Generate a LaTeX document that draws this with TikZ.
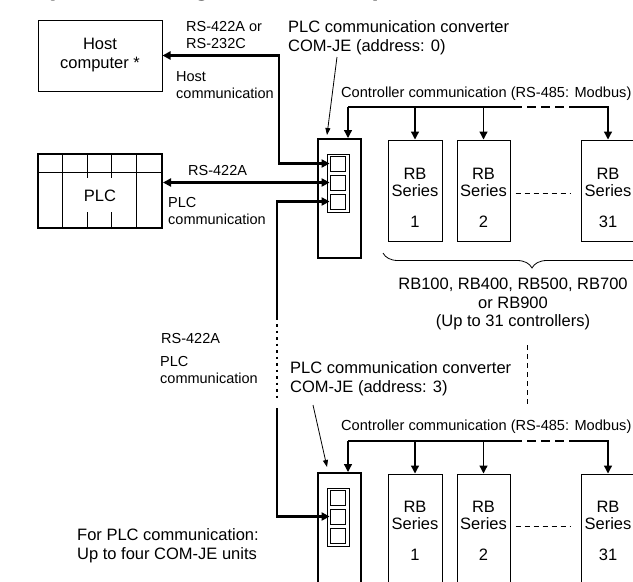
\documentclass[tikz,border=0pt]{standalone}
\usepackage{fontspec}
\setmainfont{Liberation Sans}
\usetikzlibrary{positioning,arrows.meta,decorations.pathreplacing}
\tikzset{
  thinbox/.style={draw, line width=1pt, align=center, font=\fontsize{16.5}{19}\selectfont},
  thickbox/.style={draw, line width=2pt},
  portbox/.style={draw, line width=0.8pt, minimum size=15pt},
  wire/.style={line width=2.5pt},
  bus/.style={line width=1.3pt},
  ptr/.style={line width=0.8pt, -{Triangle[length=7pt,width=5pt]}},
  dashline/.style={line width=0.8pt, dash pattern=on 5pt off 4pt},
  bigtext/.style={font=\fontsize{16.5}{19.5}\selectfont, align=left},
  smalltext/.style={font=\fontsize{14.5}{16.5}\selectfont, align=left},
  bustext/.style={font=\fontsize{14.6}{17}\selectfont},
  rbtext/.style={font=\fontsize{16.5}{17}\selectfont, align=center, anchor=north}
}
\begin{document}
\begin{tikzpicture}[x=1pt, y=-1pt, >={Triangle[length=8pt,width=8pt]}, every node/.style={inner sep=0pt}]
  \useasboundingbox (0,0) rectangle (633,582);
  \clip (0,0) rectangle (633,582);

  % title, cut by the top edge
  \node[anchor=base west, font=\bfseries\fontsize{26}{30}\selectfont] (title) at (32,-4.5) {System configuration example};

  % host and PLC
  \node[thinbox, minimum width=124pt, minimum height=71pt] (host) at (100,55.5) {Host\\computer *};
  \node[thickbox, minimum width=124pt, minimum height=74pt] (plc) at (100,191) {};
  \draw[line width=1pt] (plc.north west) ++(0,19) -- ++(124,0);
  \foreach \dx/\len in {25/74,50/25,74/25,99/74}
    \draw[line width=1pt] (plc.north west) ++(\dx,0) -- ++(0,\len);
  \foreach \dx in {50,74}
    \draw[line width=1pt] (plc.south west) ++(\dx,0) -- ++(0,-17);
  \node[font=\fontsize{16.5}{19}\selectfont] (plcname) at (100,196) {PLC};

  % upper COM-JE
  \node[thickbox, minimum width=43pt, minimum height=119pt] (com1) at (339.5,198.5) {};
  \node[portbox, minimum width=22pt, minimum height=58pt] (frame1) at (338,183) {};
  \node[portbox] (p1) at (337.5,163.5) {};
  \node[portbox] (p2) at (337.5,182.5) {};
  \node[portbox] (p3) at (337.5,201.5) {};

  % lower COM-JE
  \node[thickbox, minimum width=43pt, minimum height=147pt] (com2) at (339.5,546.5) {};
  \node[portbox, minimum width=22pt, minimum height=58pt] (frame2) at (338,517) {};
  \node[portbox] (q1) at (337.5,497.5) {};
  \node[portbox] (q2) at (337.5,516.5) {};
  \node[portbox] (q3) at (337.5,535.5) {};

  % controllers
  \node[thinbox, minimum width=54pt, minimum height=101pt] (rba1) at (415,190.5) {};
  \node[thinbox, minimum width=53pt, minimum height=101pt] (rba2) at (483.5,190.5) {};
  \node[thinbox, minimum width=54pt, minimum height=101pt] (rba31) at (608,190.5) {};
  \node[rbtext] (rba1t) at ([yshift=-28pt]rba1.north) {RB\\Series\\[14pt]1};
  \node[rbtext] (rba2t) at ([yshift=-28pt]rba2.north) {RB\\Series\\[14pt]2};
  \node[rbtext] (rba31t) at ([yshift=-28pt]rba31.north) {RB\\Series\\[14pt]31};
  \node[thinbox, minimum width=54pt, minimum height=146pt] (rbb1) at (415,547) {};
  \node[thinbox, minimum width=53pt, minimum height=146pt] (rbb2) at (483.5,547) {};
  \node[thinbox, minimum width=54pt, minimum height=146pt] (rbb31) at (608,547) {};
  \node[rbtext] (rbb1t) at ([yshift=-27pt]rbb1.north) {RB\\Series\\[14pt]1};
  \node[rbtext] (rbb2t) at ([yshift=-27pt]rbb2.north) {RB\\Series\\[14pt]2};
  \node[rbtext] (rbb31t) at ([yshift=-27pt]rbb31.north) {RB\\Series\\[14pt]31};
  \draw[dashline] ([xshift=5pt,yshift=-2.5pt]rba2.east) -- ([xshift=-10pt,yshift=-2.5pt]rba31.west);
  \draw[dashline] ([xshift=5pt,yshift=21pt]rbb2.east) -- ([xshift=-10pt,yshift=21pt]rbb31.west);

  % brace under the upper group
  \draw[line width=0.8pt, decorate, decoration={brace, mirror, amplitude=15pt, aspect=0.5}]
    (383,253) -- (681,253);
  \node[bigtext, font=\fontsize{16.5}{18.5}\selectfont, align=center, anchor=north] (models) at (513,278.2)
    {RB100, RB400, RB500, RB700\\or RB900\\(Up to 31 controllers)};

  % host and PLC lines
  \coordinate (hb) at (279,110);
  \draw[wire,<->] (host.east) -| (hb) |- (p1.west);
  \draw[wire,<->] (plc.east |- p2.west) -- (p2.west);
  \coordinate (lk1) at (277,320);
  \coordinate (lk2) at (277,324);
  \coordinate (lk3) at (277,401);
  \coordinate (lk4) at (277,408);
  \draw[wire,<-] (p3.west) -| (lk1);
  \draw[wire, dash pattern=on 2.5pt off 4pt] (lk2) -- (lk3);
  \draw[wire,->] (lk4) |- (q2.west);

  % controller buses
  \coordinate (bus1) at (348,107);
  \coordinate (d1a) at (513,107);
  \coordinate (d1b) at (578,107);
  \draw[bus,->] (bus1) -- (bus1 |- com1.north);
  \draw[bus] (bus1) -- (d1a);
  \draw[bus, dash pattern=on 9pt off 5pt] (d1a) -- (d1b);
  \draw[bus,->] (d1b) -| (rba31.north);
  \draw[bus,->] (rba1.north |- bus1) -- (rba1.north);
  \draw[bus,->] (rba2.north |- bus1) -- (rba2.north);
  \coordinate (bus2) at (348,441);
  \coordinate (d2a) at (513,441);
  \coordinate (d2b) at (578,441);
  \draw[bus,->] (bus2) -- (bus2 |- com2.north);
  \draw[bus] (bus2) -- (d2a);
  \draw[bus, dash pattern=on 9pt off 5pt] (d2a) -- (d2b);
  \draw[bus,->] (d2b) -| (rbb31.north);
  \draw[bus,->] (rbb1.north |- bus2) -- (rbb1.north);
  \draw[bus,->] (rbb2.north |- bus2) -- (rbb2.north);

  % between the two groups
  \coordinate (gap1) at (527,345);
  \coordinate (gap2) at (527,407);
  \draw[dashline] (gap1) -- (gap2);

  % labels
  \node[smalltext, anchor=north west] (rs232) at (186,21.6) {RS-422A or\\RS-232C};
  \node[smalltext, anchor=north west] (hostcom) at (176,71.6) {Host\\communication};
  \node[smalltext, anchor=base west] (rs422a) at (188,175) {RS-422A};
  \node[smalltext, anchor=north west] (plccoma) at (168,197.6) {PLC\\communication};
  \node[smalltext, anchor=base west] (rs422b) at (161,343) {RS-422A};
  \node[smalltext, anchor=north west] (plccomb) at (160,356.6) {PLC\\communication};
  \node[bigtext, anchor=north west] (conv1) at (288,20.2) {PLC communication converter\\COM-JE (address: 0)};
  \node[bigtext, anchor=north west] (conv2) at (290,361.2) {PLC communication converter\\COM-JE (address: 3)};
  \node[bustext, anchor=base west] (ctl1) at (341,97) {Controller communication (RS-485: Modbus)};
  \node[bustext, anchor=base west] (ctl2) at (341,430) {Controller communication (RS-485: Modbus)};
  \node[bigtext, anchor=north west] (note) at (77,528.2) {For PLC communication:\\Up to four COM-JE units};

  % pointers to the converters
  \coordinate (ptr1) at (337,57);
  \coordinate (ptr2) at (313,405);
  \draw[ptr] (ptr1) -- ([xshift=10pt,yshift=3pt]com1.north west);
  \draw[ptr] (ptr2) -- ([xshift=10pt,yshift=5pt]com2.north west);
\end{tikzpicture}
\end{document}
